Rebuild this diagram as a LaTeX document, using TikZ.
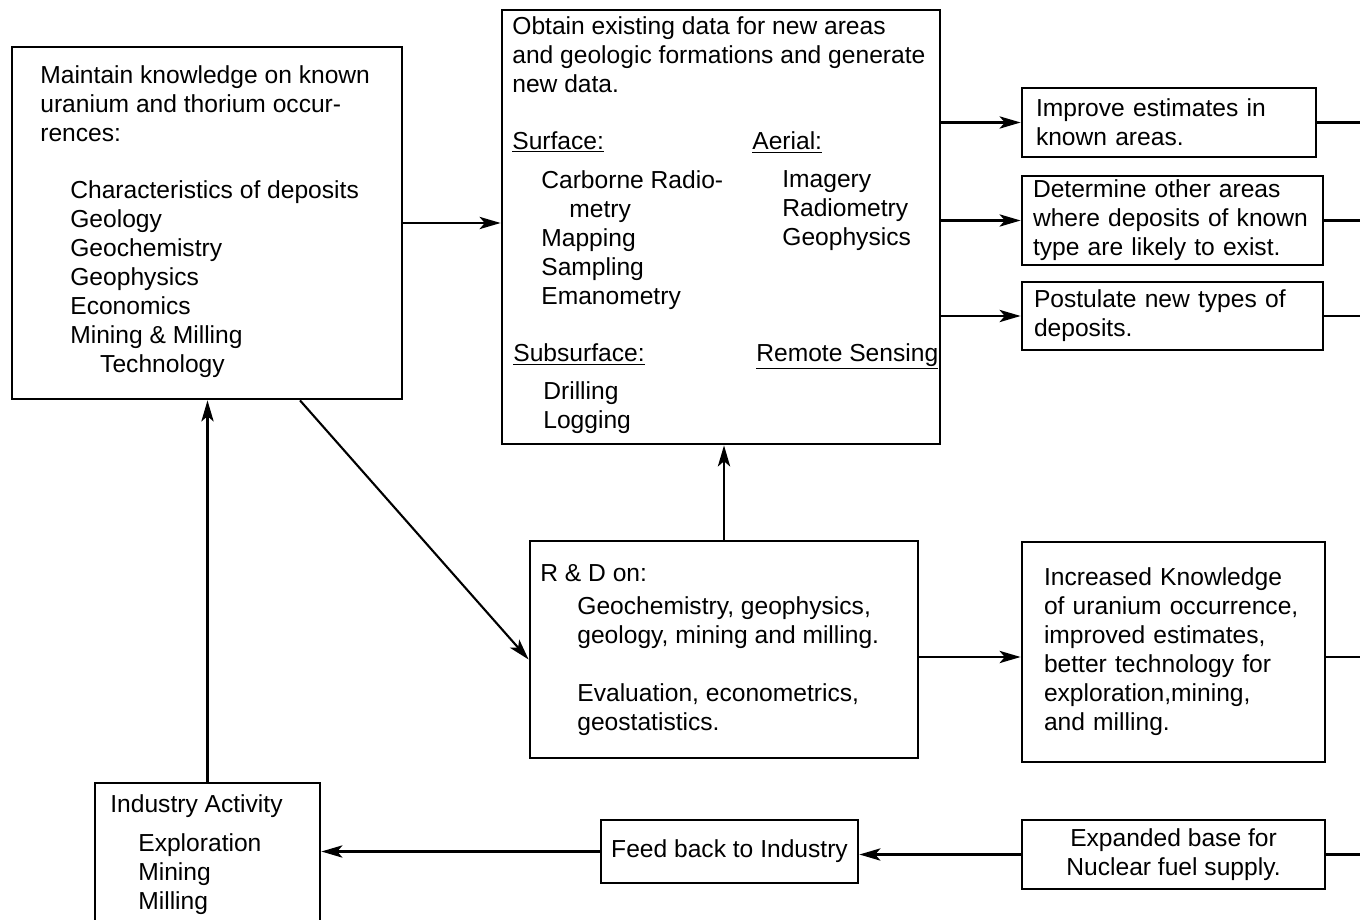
\documentclass[tikz,border=0pt]{standalone}
\usepackage{fontspec}
\setmainfont{Liberation Sans}
\usetikzlibrary{arrows.meta, positioning}
\tikzstyle{box}=[draw, line width=1.6pt, rectangle, inner sep=0pt]
\tikzstyle{tbox}=[box, align=left, inner xsep=0.28cm]
\tikzstyle{txt}=[anchor=north west, align=left, inner sep=0pt]
\tikzstyle{flow}=[line width=1.2pt, -{Stealth[length=12pt, width=7pt, inset=3pt]}]
\tikzstyle{feed}=[line width=1.2pt]

\begin{document}
\begin{tikzpicture}[font=\fontsize{14}{16.5}\selectfont]
\useasboundingbox (0,0) rectangle (27.2,-18.4);
\clip (0,0) rectangle (27.2,-18.4);
\coordinate (edge) at (27.2,0);

% knowledge box
\node[box, minimum width=7.8cm, minimum height=7.04cm] (know) at (4.14,-4.46) {};
\node[txt] (knowhead) at (0.8,-1.3) {Maintain knowledge on known\\uranium and thorium occur-\\rences:};
\node[txt] (knowlist) at (1.4,-3.6) {Characteristics of deposits\\Geology\\Geochemistry\\Geophysics\\Economics\\Mining \& Milling\\\hspace*{17pt}Technology};

% data box
\node[box, minimum width=8.76cm, minimum height=8.68cm] (data) at (14.42,-4.54) {};
\node[txt] (datahead) at (10.24,-0.32) {Obtain existing data for new areas\\and geologic formations and generate\\new data.};
\node[txt] (surflbl) at (10.24,-2.62) {\underline{Surface:}};
\node[txt] (surflist) at (10.82,-3.4) {Carborne Radio-\\\hspace*{16pt}metry\\Mapping\\Sampling\\Emanometry};
\node[txt] (aerlbl) at (15.04,-2.62) {\underline{Aerial:}};
\node[txt] (aerlist) at (15.64,-3.4) {Imagery\\Radiometry\\Geophysics};
\node[txt] (sublbl) at (10.26,-6.86) {\underline{Subsurface:}};
\node[txt] (sublist) at (10.86,-7.62) {Drilling\\Logging};
\node[txt] (remlbl) at (15.12,-6.86) {\underline{Remote Sensing}};

% right column
\node[tbox, text width=5.32cm, minimum height=1.38cm] (est) at (23.38,-2.45) {Improve estimates in\\known areas.};
\node[tbox, inner xsep=0.22cm, text width=5.58cm, minimum height=1.78cm] (other) at (23.45,-4.41) {Determine other areas\\where deposits of known\\type are likely to exist.};
\node[tbox, inner xsep=0.24cm, text width=5.54cm, minimum height=1.36cm] (newtype) at (23.45,-6.32) {Postulate new types of\\deposits.};

% R & D box
\node[box, minimum width=7.76cm, minimum height=4.34cm] (rd) at (14.48,-12.99) {};
\node[txt] (rdhead) at (10.8,-11.28) {R \& D on:};
\node[txt] (rdlist) at (11.54,-11.92) {Geochemistry, geophysics,\\geology, mining and milling.\\[16.5pt]Evaluation, econometrics,\\geostatistics.};

\node[tbox, inner xsep=0.44cm, text width=5.18cm, minimum height=4.4cm] (inc) at (23.47,-13.04) {Increased Knowledge\\of uranium occurrence,\\improved estimates,\\better technology for\\exploration,mining,\\and milling.};

% bottom row
\node[box, align=center, minimum width=6.06cm, minimum height=1.38cm] (base) at (23.47,-17.09) {Expanded base for\\Nuclear fuel supply.};
\node[box, minimum width=5.14cm, minimum height=1.26cm] (fb) at (14.59,-17.03) {Feed back to Industry};
\node[box, minimum width=4.5cm, minimum height=4cm] (ind) at (4.15,-17.66) {};
\node[txt] (indhead) at (2.2,-15.88) {Industry Activity};
\node[txt] (indlist) at (2.76,-16.66) {Exploration\\Mining\\Milling};

% connectors
\draw[flow] (know.east) -- (know.east -| data.west);
\draw[flow] (data.east |- est.west) -- (est.west);
\draw[flow] (data.east |- other.west) -- (other.west);
\draw[flow] (data.east |- newtype.west) -- (newtype.west);
\draw[feed] (est.east) -- (est.east -| edge);
\draw[feed] (other.east) -- (other.east -| edge);
\draw[feed] (newtype.east) -- (newtype.east -| edge);
\draw[flow] (rd.north) -- (rd.north |- data.south);
\draw[flow] ([yshift=-0.15cm]rd.east) -- ([yshift=-0.15cm]rd.east -| inc.west);
\draw[feed] ([yshift=-0.1cm]inc.east) -- ([yshift=-0.1cm]inc.east -| edge);
\draw[feed] (edge |- base.east) -- (base.east);
\draw[flow] (base.west) -- (base.west -| fb.east);
\draw[flow] (fb.west) -- (fb.west -| ind.east);
\draw[flow] (ind.north) -- (ind.north |- know.south);
\draw[flow] ([xshift=1.86cm]know.south) -- ([yshift=-0.2cm]rd.west);
\end{tikzpicture}
\end{document}
